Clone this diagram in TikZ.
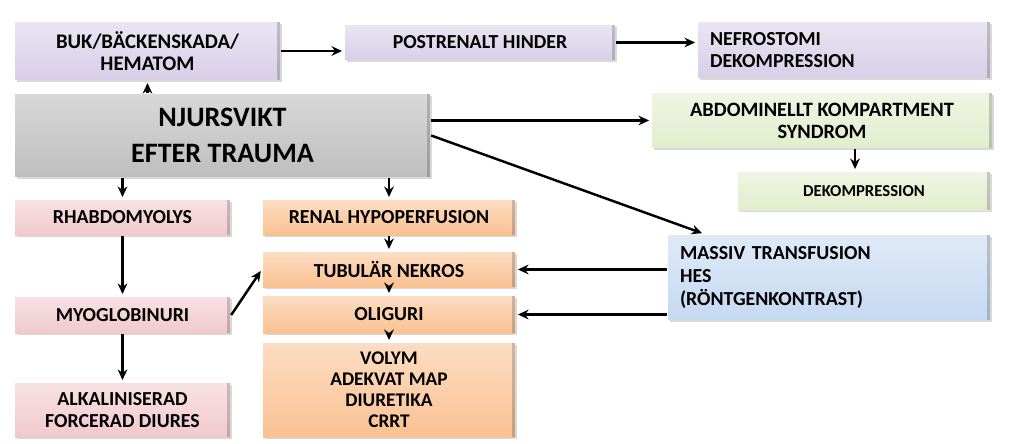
\documentclass[tikz,border=0pt]{standalone}
\usepackage{fontspec}
\setmainfont{Carlito}
\usetikzlibrary{arrows.meta,shadows}
\definecolor{cpurple}{RGB}{216,207,232}
\definecolor{cgray}{RGB}{190,190,190}
\definecolor{cgreen}{RGB}{226,237,205}
\definecolor{cpink}{RGB}{241,201,205}
\definecolor{corange}{RGB}{250,193,146}
\definecolor{cblue}{RGB}{197,217,241}

\begin{document}
\begin{tikzpicture}[x=0.02cm,y=-0.02cm,>={Stealth[length=6pt,width=5.5pt]},shorten >=1pt,
  line width=1.4pt,
  box/.style={rectangle,inner sep=0pt,align=center,
    font=\bfseries\fontsize{11.3}{12.5}\selectfont,
    drop shadow={opacity=0.3,shadow xshift=1.2pt,shadow yshift=-1.2pt},
    path picture={\fill[black,opacity=0.18] (path picture bounding box.north east)
      rectangle ([xshift=-1.5pt]path picture bounding box.south east);}},
  purple node/.style={box,top color=cpurple!55!white,bottom color=cpurple},
  gray node/.style={box,top color=cgray!60!white,bottom color=cgray},
  green node/.style={box,top color=cgreen!55!white,bottom color=cgreen},
  pink node/.style={box,top color=cpink!55!white,bottom color=cpink},
  orange node/.style={box,top color=corange!55!white,bottom color=corange},
  blue node/.style={box,top color=cblue!55!white,bottom color=cblue}]
  \useasboundingbox (0,0) rectangle (1023,443);

  % top row
  \node[purple node,minimum width=5.3cm,minimum height=1.16cm,
    font=\bfseries\fontsize{11.8}{12.5}\selectfont] (buk) at (147.5,51)
    {BUK/BÄCKENSKADA/\\HEMATOM};
  \node[purple node,minimum width=5.4cm,minimum height=0.7cm] (post) at (480,42.5)
    {POSTRENALT HINDER};
  \node[purple node,text width=5.36cm,inner xsep=0.24cm,align=left,minimum height=1.12cm]
    (nefro) at (844,50) {NEFROSTOMI\\DEKOMPRESSION};

  % center
  \node[gray node,minimum width=8.3cm,minimum height=1.66cm,
    font=\bfseries\fontsize{16}{20.5}\selectfont] (njur) at (222.5,135.5)
    {NJURSVIKT\\EFTER TRAUMA};
  \node[green node,minimum width=6.8cm,minimum height=1.1cm,
    font=\bfseries\fontsize{11.6}{12.5}\selectfont] (abdom) at (822,120.5)
    {ABDOMINELLT KOMPARTMENT\\SYNDROM};
  \node[green node,minimum width=5.04cm,minimum height=0.76cm,
    font=\bfseries\fontsize{9.5}{11}\selectfont] (dekomp) at (864,191)
    {DEKOMPRESSION};

  % left column
  \node[pink node,minimum width=4.3cm,minimum height=0.7cm] (rhabdo) at (122.5,217.5)
    {RHABDOMYOLYS};
  \node[pink node,minimum width=4.3cm,minimum height=0.72cm] (myo) at (122.5,315)
    {MYOGLOBINURI};
  \node[pink node,minimum width=4.3cm,minimum height=1.08cm] (alkal) at (122.5,410)
    {ALKALINISERAD\\FORCERAD DIURES};

  % middle column
  \node[orange node,minimum width=5.04cm,minimum height=0.7cm] (renal) at (389,217.5)
    {RENAL HYPOPERFUSION};
  \node[orange node,minimum width=5.04cm,minimum height=0.7cm] (tubular) at (389,269.5)
    {TUBULÄR NEKROS};
  \node[orange node,minimum width=5.04cm,minimum height=0.74cm] (oliguri) at (389,314.5)
    {OLIGURI};
  \node[orange node,minimum width=5.04cm,minimum height=1.88cm,
    font=\bfseries\fontsize{11}{11.9}\selectfont] (volym) at (389,390)
    {VOLYM\\ADEKVAT MAP\\DIURETIKA\\CRRT};

  % right
  \node[blue node,text width=5.96cm,inner xsep=0.24cm,align=left,minimum height=1.7cm,
    font=\bfseries\fontsize{11.3}{13.3}\selectfont] (massiv) at (829,277.5)
    {MASSIV TRANSFUSION\\HES\\(RÖNTGENKONTRAST)};

  \coordinate (d) at ([xshift=-0.18cm]dekomp.north);
  \coordinate (m) at ([xshift=0.74cm]massiv.north west);

  \path[->]
    (njur.north -| buk) edge (buk.south)
    (buk.east) edge (buk.east -| post.west)
    (post.east) edge (post.east -| nefro.west)
    (njur.east |- abdom.west) edge (abdom.west)
    (njur.east) edge (m)
    (abdom.south -| d) edge (d)
    (njur.south -| rhabdo) edge (rhabdo.north)
    (njur.south -| renal) edge (renal.north)
    (rhabdo.south) edge (myo.north)
    (myo.south) edge (alkal.north)
    (myo.east) edge (tubular.west)
    (renal.south) edge (tubular.north)
    (tubular.south) edge (oliguri.north)
    (oliguri.south) edge (volym.north)
    (massiv.west |- tubular.east) edge (tubular.east)
    (massiv.west |- oliguri.east) edge (oliguri.east);
\end{tikzpicture}
\end{document}
